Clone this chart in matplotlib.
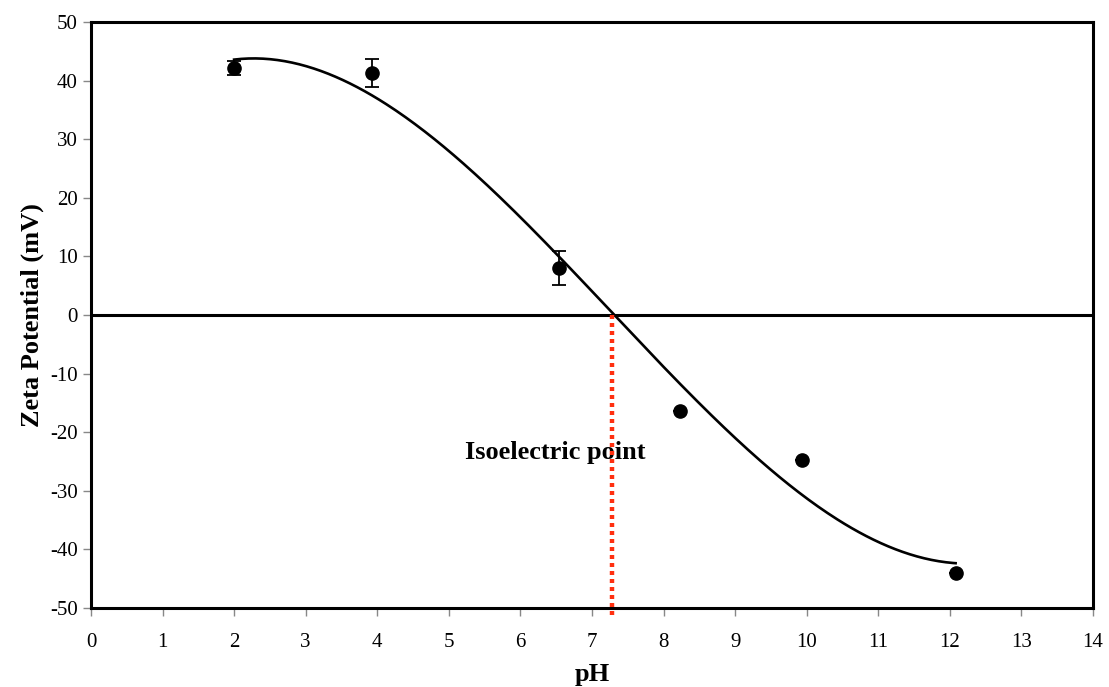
import numpy as np
import matplotlib.pyplot as plt

plt.rcParams['font.family'] = ['Liberation Serif', 'DejaVu Serif']
plt.rcParams['axes.unicode_minus'] = False

ph = [2.0, 3.92, 6.54, 8.23, 9.93, 12.08]
zeta = [42.1, 41.3, 8.0, -16.4, -24.7, -44.0]
zeta_err = [1.2, 2.4, 2.9, 0.0, 0.0, 0.0]
iep = 7.28

fig = plt.figure(figsize=(11.09, 6.87), dpi=100)
ax = fig.add_axes([0.082, 0.115, 0.9036, 0.853])

# cubic trendline through the measurements
coef = np.polyfit(ph, zeta, 3)
xs = np.linspace(min(ph), max(ph), 300)
ax.plot(xs, np.polyval(coef, xs), color='black', lw=1.9, zorder=3)

ax.errorbar(ph, zeta, yerr=zeta_err, fmt='o', color='black', ms=9.5,
            capsize=5, elinewidth=1.3, capthick=1.3, zorder=4)

ax.axhline(0, color='black', lw=2.2, zorder=2)
ax.plot([iep, iep], [0, -51.5], color='#ff3010', lw=3.2, ls=(0, (0.9, 0.9)),
        clip_on=False, zorder=5)
ax.text(6.48, -23.5, 'Isoelectric point', fontsize=19, fontweight='bold',
        ha='center', va='center')

ax.set_xlim(0, 14)
ax.set_ylim(-50, 50)
ax.set_xticks(range(0, 15))
ax.set_yticks(range(-50, 51, 10))
ax.tick_params(direction='out', length=6, width=1, labelsize=15, color='#888888')
ax.tick_params(axis='x', pad=12)
for s in ax.spines.values():
    s.set_linewidth(2.2)

ax.set_xlabel('pH', fontsize=19, fontweight='bold', labelpad=8)
ax.set_ylabel('Zeta Potential (mV)', fontsize=19, fontweight='bold', labelpad=4)

fig.savefig('out.png', dpi=100)
